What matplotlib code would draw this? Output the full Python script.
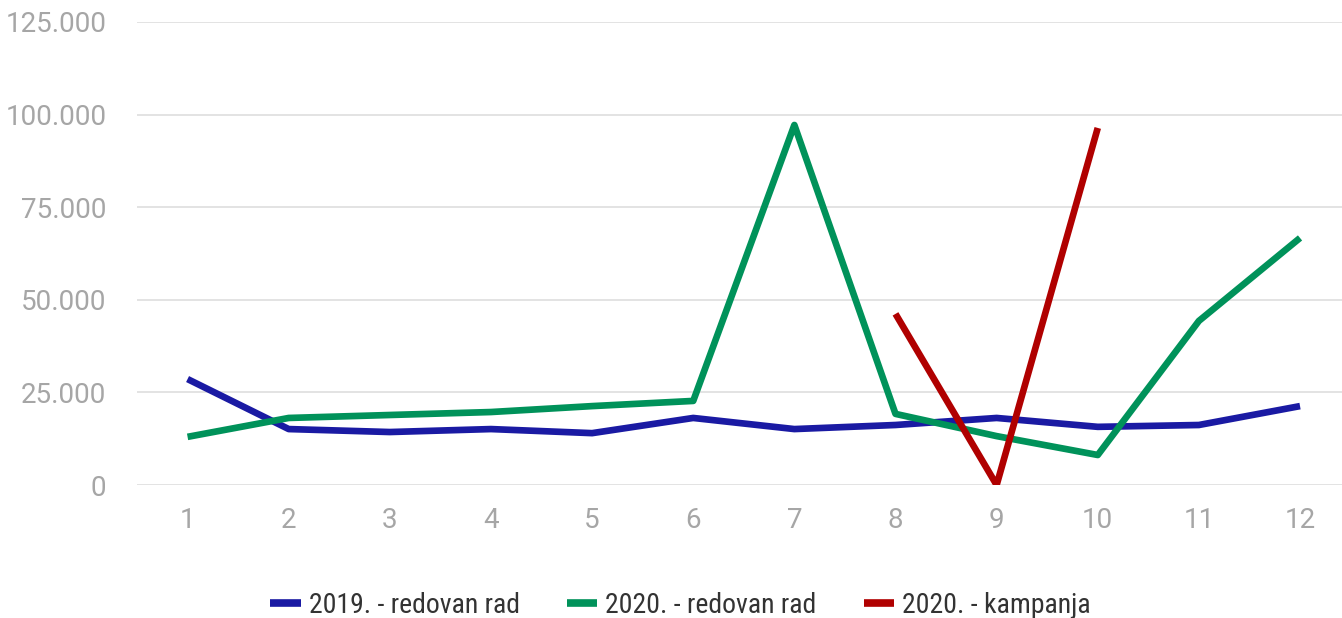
import matplotlib.pyplot as plt
from matplotlib.ticker import FuncFormatter

# Podaci po mjesecima
months = list(range(1, 13))
redovan_2019 = [28600, 15100, 14300, 15100, 14000, 18100, 15100, 16200, 18100, 15700, 16200, 21300]
redovan_2020 = [13000, 18100, 18900, 19700, 21300, 22700, 97200, 19200, 13200, 8100, 44300, 66700]
kampanja_months = [8, 9, 10]
kampanja_2020 = [46200, 0, 96400]

yticks = [0, 25000, 50000, 75000, 100000, 125000]

plt.rcParams['font.family'] = ['Roboto', 'DejaVu Sans']

fig = plt.figure(figsize=(13.42, 6.18), dpi=100)
ax = fig.add_axes([137 / 1342, 133 / 618, 1213.6 / 1342, 463 / 618])

lw = 4.8
ax.plot(months, redovan_2019, color='#1a1aa3', lw=lw, label='2019. - redovan rad', solid_capstyle='butt')
ax.plot(months, redovan_2020, color='#00925a', lw=lw, label='2020. - redovan rad', solid_capstyle='butt')
ax.plot(kampanja_months, kampanja_2020, color='#b00000', lw=lw, label='2020. - kampanja', solid_capstyle='butt')

ax.set_xlim(0.5, 12.5)
ax.set_ylim(0, 125000)
ax.set_xticks(months)
ax.set_yticks(yticks)
ax.yaxis.set_major_formatter(FuncFormatter(lambda v, p: f'{int(v):,}'.replace(',', '.')))

ax.grid(axis='y', color='#e0e0e0', lw=1.3)
ax.set_axisbelow(True)
for s in ax.spines.values():
    s.set_visible(False)
ax.tick_params(length=0, colors='#a6a6a6', labelsize=20)
ax.tick_params(axis='y', pad=22)
ax.tick_params(axis='x', pad=16)

leg = fig.legend(loc='center', bbox_to_anchor=(0.507, 0.02), ncol=3, frameon=False,
                 fontsize=20, handlelength=1.1, columnspacing=1.7, handletextpad=0.28)
for t in leg.get_texts():
    t.set_color('#333333')
    t.set_family(['Roboto Condensed', 'Roboto'])
for h in leg.legend_handles:
    h.set_linewidth(5.5)

fig.savefig('out.png', dpi=100)
